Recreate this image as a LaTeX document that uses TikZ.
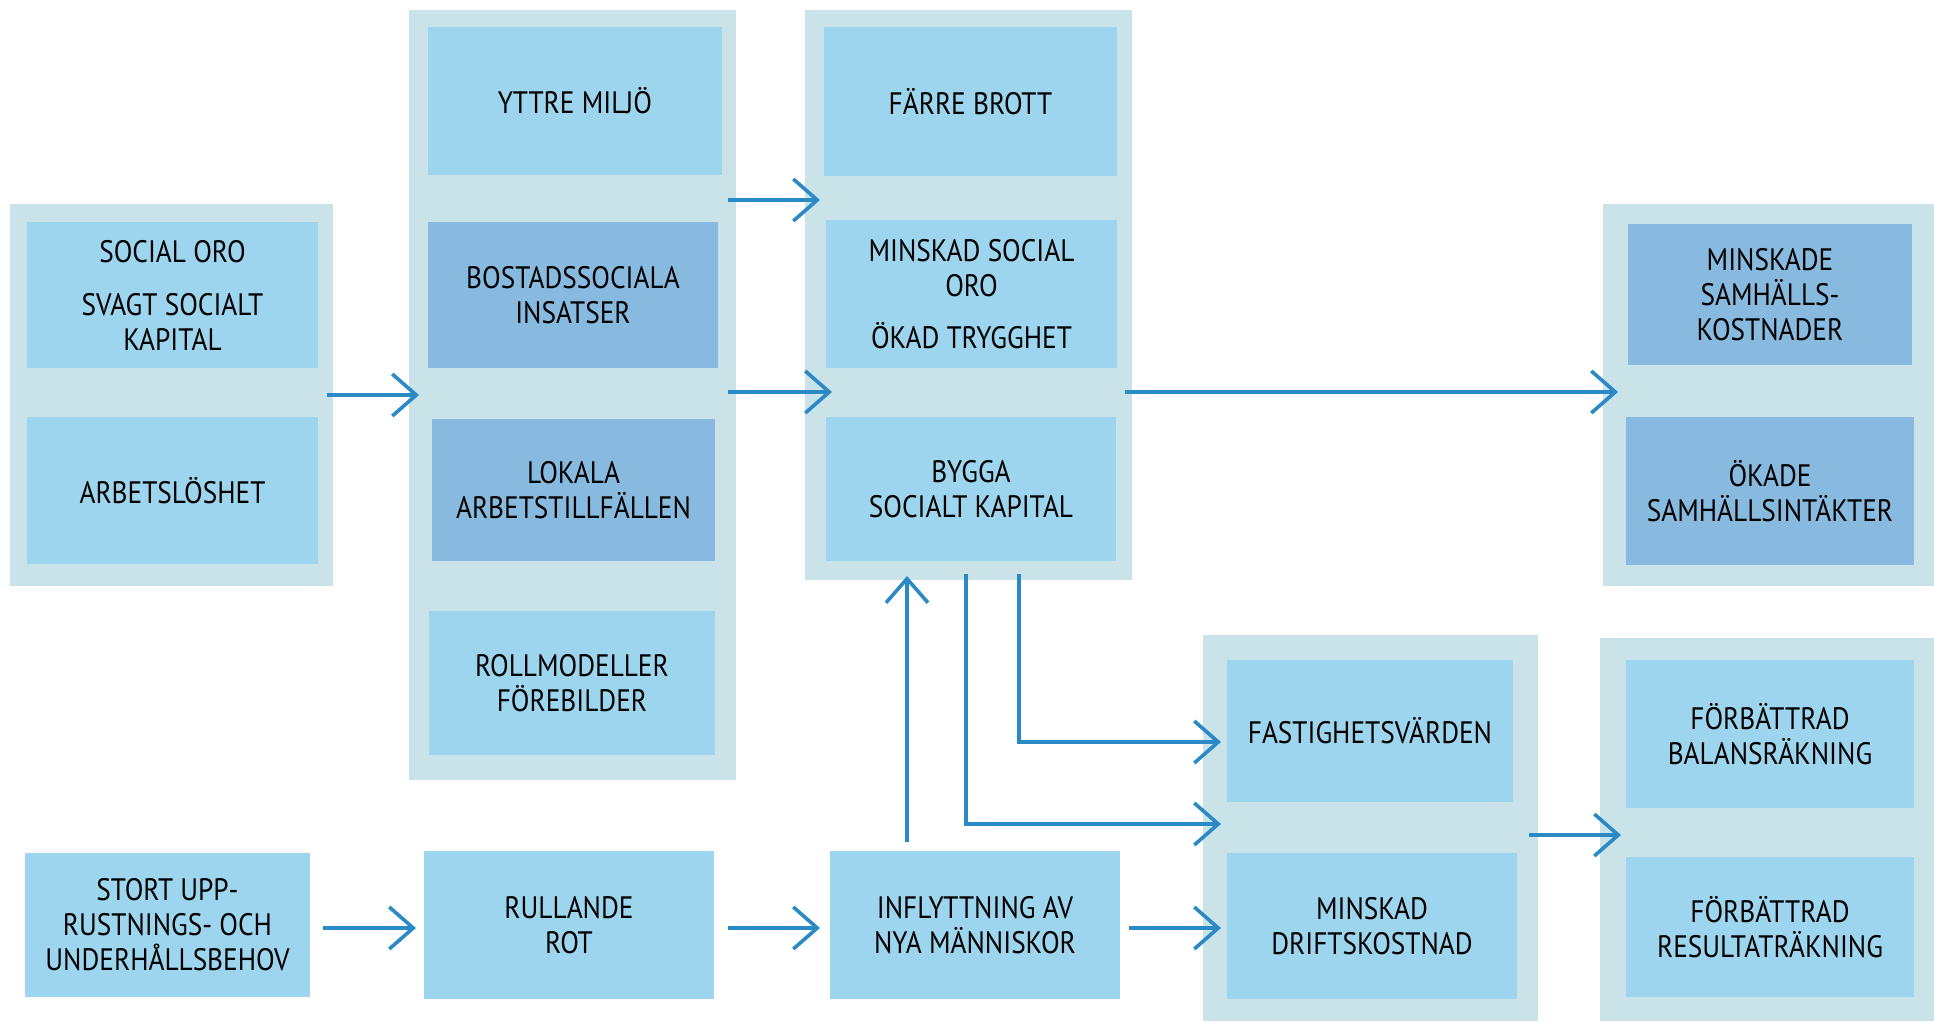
\documentclass[tikz,border=0pt]{standalone}
\usepackage{fontspec}
\setmainfont{PT Sans}[FakeStretch=0.88]
\usetikzlibrary{arrows.meta,calc}
\definecolor{contc}{HTML}{C9E3E9}
\definecolor{lightc}{HTML}{9DD4EE}
\definecolor{darkc}{HTML}{88BAE0}
\definecolor{arrc}{HTML}{2B8AC6}
\newcommand\BX[7]{\node[#1, anchor=north west, minimum width={(#5-#3)*0.5pt}, minimum height={(#6-#4)*0.5pt}] (#2) at (#3,#4) {#7};}
\begin{document}
\begin{tikzpicture}[x=0.5pt,y=-0.5pt,
  every node/.style={inner sep=0pt, outer sep=0pt, align=center, font=\fontsize{15.5}{17.5}\selectfont},
  cont/.style={fill=contc},
  lbox/.style={fill=lightc},
  dbox/.style={fill=darkc},
  arr/.style={draw=arrc, line width=2.2pt, -{Straight Barb[length=12pt,width=21pt,line width=1.8pt]}}]
\useasboundingbox (0,0) rectangle (1934,1023);
% containers
\BX{cont}{c1}{10}{204}{333}{586}{}
\BX{cont}{c2}{409}{10}{736}{780}{}
\BX{cont}{c3}{805}{10}{1132}{580}{}
\BX{cont}{c4}{1603}{204}{1934}{586}{}
\BX{cont}{c5}{1203}{635}{1538}{1021}{}
\BX{cont}{c6}{1600}{638}{1934}{1021}{}
% inner boxes
\BX{lbox}{b11}{27}{222}{318}{368}{SOCIAL ORO\\[9pt]SVAGT SOCIALT\\KAPITAL}
\BX{lbox}{b12}{27}{417}{318}{564}{ARBETSLÖSHET}
\BX{lbox}{b21}{428}{27}{722}{175}{YTTRE MILJÖ}
\BX{dbox}{b22}{428}{222}{718}{368}{BOSTADSSOCIALA\\INSATSER}
\BX{dbox}{b23}{432}{419}{715}{561}{LOKALA\\ARBETSTILLFÄLLEN}
\BX{lbox}{b24}{429}{611}{715}{755}{ROLLMODELLER\\FÖREBILDER}
\BX{lbox}{b31}{824}{27}{1117}{176}{FÄRRE BROTT}
\BX{lbox}{b32}{826}{220}{1117}{368}{MINSKAD SOCIAL\\ORO\\[8.5pt]ÖKAD TRYGGHET}
\BX{lbox}{b33}{826}{417}{1116}{561}{BYGGA\\SOCIALT KAPITAL}
\BX{dbox}{b41}{1628}{224}{1912}{365}{MINSKADE\\SAMHÄLLS-\\KOSTNADER}
\BX{dbox}{b42}{1626}{417}{1914}{565}{ÖKADE\\SAMHÄLLSINTÄKTER}
\BX{lbox}{s1}{25}{853}{310}{997}{STORT UPP-\\RUSTNINGS- OCH\\UNDERHÅLLSBEHOV}
\BX{lbox}{s2}{424}{851}{714}{999}{RULLANDE\\ROT}
\BX{lbox}{s3}{830}{851}{1120}{999}{INFLYTTNING AV\\NYA MÄNNISKOR}
\BX{lbox}{b51}{1227}{660}{1513}{802}{FASTIGHETSVÄRDEN}
\BX{lbox}{b52}{1227}{853}{1517}{999}{MINSKAD\\DRIFTSKOSTNAD}
\BX{lbox}{b61}{1626}{660}{1914}{808}{FÖRBÄTTRAD\\BALANSRÄKNING}
\BX{lbox}{b62}{1626}{857}{1914}{997}{FÖRBÄTTRAD\\RESULTATRÄKNING}
% helper coordinates
\coordinate (ya) at (0,200);
\coordinate (yb) at (0,392);
\coordinate (yc) at (0,742);
\coordinate (yd) at (0,824);
\coordinate (ye) at (0,835);
\coordinate (yf) at (0,928);
\coordinate (xa) at (907,0);
\coordinate (xb) at (966,0);
\coordinate (xc) at (1019,0);
% arrows
\draw[arr] ([xshift=-3pt]c1.east) -- ([xshift=5pt]c2.west);
\draw[arr] ([xshift=-4pt]c2.east |- ya) -- ([xshift=7.5pt]c3.west |- ya);
\draw[arr] ([xshift=-4pt]c2.east |- yb) -- ([xshift=13.5pt]c3.west |- yb);
\draw[arr] ([xshift=-3.5pt]c3.east |- yb) -- ([xshift=7.5pt]c4.west |- yb);
\draw[arr] ([yshift=4.5pt]s3.north -| xa) -- ([yshift=2pt]c3.south -| xa);
\draw[arr] ([yshift=3pt]c3.south -| xc) |- ([xshift=9pt]c5.west |- yc);
\draw[arr] ([yshift=3pt]c3.south -| xb) |- ([xshift=9pt]c5.west |- yd);
\draw[arr] ([xshift=-4.5pt]c5.east |- ye) -- ([xshift=10.5pt]c6.west |- ye);
\draw[arr] ([xshift=6.5pt]s1.east |- yf) -- ([xshift=-4pt]s2.west |- yf);
\draw[arr] ([xshift=7pt]s2.east |- yf) -- ([xshift=-5pt]s3.west |- yf);
\draw[arr] ([xshift=4.5pt]s3.east |- yf) -- ([xshift=9pt]c5.west |- yf);
\end{tikzpicture}
\end{document}
